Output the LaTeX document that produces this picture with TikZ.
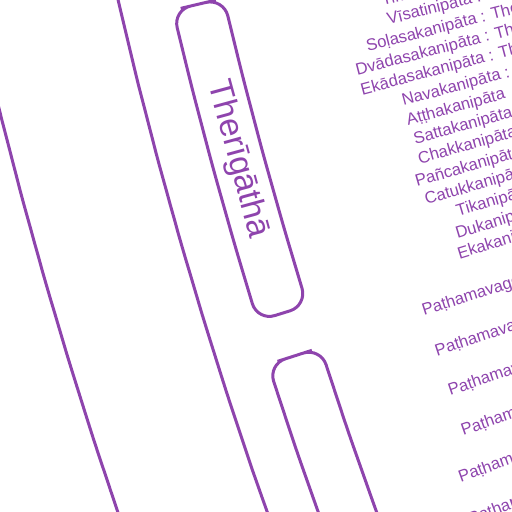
\documentclass[tikz,border=0pt]{standalone}
\usepackage{fontspec}
\setmainfont{Liberation Sans}
\definecolor{tp}{HTML}{8E44AD}
\begin{document}
\begin{tikzpicture}[x=0.02cm,y=-0.02cm,
  ring/.style={draw=tp, line width=0.06cm},
  boxline/.style={draw=tp, line width=0.06cm, rounded corners=0.36cm},
  leaf/.style={text=tp, font=\fontsize{9.45}{10}\selectfont, anchor=base west, inner sep=0pt},
  title/.style={text=tp, font=\fontsize{19}{21}\selectfont, inner sep=0pt}]
\useasboundingbox (0,0) rectangle (512,512);
\clip (0,0) rectangle (512,512);
\begin{scope}[shift={(4697,-1055)}]
  % long ring lines
  \draw[ring] plot[domain=11.5:21.5, samples=60] ({180-\x}:4699);
  \draw[ring] plot[domain=11.5:21.5, samples=60] ({180-\x}:4840);
  % Therigatha box
  \draw[boxline] ({180-13.25}:4622) -- ({180-13.25}:4596)
     \foreach \t in {1,2,3}{ -- ({180-(13.25+3.97*\t/4)}:4596)}
     -- ({180-17.22}:4596) -- ({180-17.22}:4648)
     \foreach \t in {3,2,1}{ -- ({180-(13.25+3.97*\t/4)}:4648)}
     -- ({180-13.25}:4648) -- cycle;
  \node[title, rotate=-74.765] (theri) at ({180-15.235}:4622) {Therīgāthā};
  % next box
  \draw[boxline] ({180-17.77}:4623) -- ({180-17.77}:4596)
     \foreach \t in {1,2,3}{ -- ({180-(17.77+4.4*\t/4)}:4596)}
     -- ({180-22.17}:4596) -- ({180-22.17}:4651)
     \foreach \t in {3,2,1}{ -- ({180-(17.77+4.4*\t/4)}:4651)}
     -- ({180-17.77}:4651) -- cycle;
  % leaf labels
  \foreach \a/\r/\t/\n in {
     13.81/4443/Tiṁsanipāta/k0,
     14.07/4442/Vīsatinipāta : Therīgāthā/k1,
     14.34/4469/Soḷasakanipāta : Therīgāthā/k2,
     14.60/4485/Dvādasakanipāta : Therīgāthā/k3,
     14.86/4485/Ekādasakanipāta : Therīgāthā/k4,
     15.13/4448/Navakanipāta :/k5,
     15.39/4449/Aṭṭhakanipāta/k6,
     15.65/4447/Sattakanipāta/k7,
     15.91/4448/Chakkanipāta/k8,
     16.18/4457/Pañcakanipāta/k9,
     16.44/4453/Catukkanipāta/k10,
     16.70/4426/Tikanipāta/k11,
     16.97/4433/Dukanipāta/k12,
     17.23/4437/Ekakanipāta/k13,
     17.79/4488/Paṭhamavagga/p1,
     18.33/4488/Paṭhamavagga/p2,
     18.86/4488/Paṭhamavagga/p3,
     19.40/4489/Paṭhamavagga/p4,
     19.95/4507/Paṭhamavagga/p5,
     20.49/4512/Paṭhamavagga/p6}
  { \node[leaf, rotate=\a] (\n) at ({180-\a}:\r) {\t}; }
\end{scope}
\end{tikzpicture}
\end{document}
